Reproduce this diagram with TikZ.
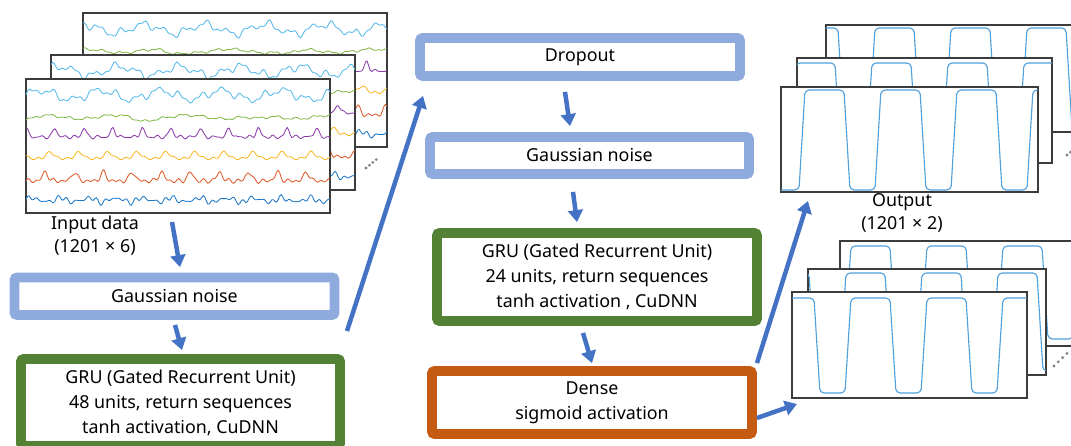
\documentclass[tikz,border=0pt]{standalone}
\usepackage{fontspec}
\setmainfont{Noto Sans}
\usetikzlibrary{arrows.meta}

\definecolor{noiseblue}{RGB}{143,170,220}
\definecolor{grugreen}{RGB}{84,130,53}
\definecolor{denseorange}{RGB}{197,90,17}
\definecolor{flowblue}{RGB}{68,114,196}
\definecolor{panelgray}{RGB}{60,60,60}
\definecolor{dotgray}{RGB}{130,130,130}
\definecolor{sigblue}{RGB}{80,160,220}
\definecolor{chA}{RGB}{86,186,236}
\definecolor{chB}{RGB}{130,186,70}
\definecolor{chC}{RGB}{140,60,170}
\definecolor{chD}{RGB}{250,185,40}
\definecolor{chE}{RGB}{225,90,40}
\definecolor{chF}{RGB}{30,120,200}

\newdimen\pxu \pxu=0.025cm

\tikzstyle{layer} = [rectangle, rounded corners=2pt, draw, line width=7pt, fill=white, text centered, align=center, font=\fontsize{12.7}{17.8}\selectfont]
\tikzstyle{panel} = [rectangle, draw=panelgray, line width=0.9pt, fill=white, inner sep=0pt, outer sep=0pt]
\tikzstyle{caption} = [align=center, font=\fontsize{12.7}{16.4}\selectfont]
\tikzstyle{arrow} = [line width=3.2pt, draw=flowblue, -{Triangle[length=8.5pt,width=10.5pt]}]
\tikzstyle{wave} = [line width=0.6pt]
\tikzstyle{sig} = [draw=sigblue, line width=0.8pt, rounded corners=3pt]

% six input channels, #1 = phase
\newcommand{\inwaves}[1]{%
  \clip (0,0) rectangle (304,135);
  \draw[wave,chA] plot[domain=0:304,samples=180] (\x,{16-4.5*sin(6*\x+#1)-3*sin(17*\x+2*#1)-1.5*sin(41*\x)-0.8*sin(29*\x+#1)});
  \draw[wave,chB] plot[domain=0:304,samples=160] (\x,{38-1.8*sin(5*\x+#1)-1*sin(19*\x+#1)-0.6*sin(43*\x)+3*exp(-6*(1-cos(3.1*\x+#1)))});
  \draw[wave,chC] plot[domain=0:304,samples=200] (\x,{58-9*exp(-5*(1-cos(12.4*\x+#1)))-1.2*sin(31*\x)-0.8*sin(47*\x+#1)});
  \draw[wave,chD] plot[domain=0:304,samples=180] (\x,{80-7*exp(-1.5*(1-cos(12.4*\x+#1+60)))-1.2*sin(37*\x+#1)});
  \draw[wave,chE] plot[domain=0:304,samples=200] (\x,{102-9*exp(-3*(1-cos(12.4*\x+#1+120)))-1.5*sin(43*\x+#1)-1*sin(29*\x)});
  \draw[wave,chF] plot[domain=0:304,samples=200] (\x,{121-2*sin(13*\x+#1)-1.6*sin(37*\x)-1.2*sin(47*\x+#1)-0.8*sin(23*\x+2*#1)});
}

% square output, #1 = phase, #2 = high, #3 = low
\newcommand{\outwave}[3]{%
  \draw[sig] (-10,#3) \foreach \k in {-1,...,4} {-- ({#1+\k*76-3},#3) -- ({#1+\k*76+3},#2) -- ({#1+\k*76+42},#2) -- ({#1+\k*76+48},#3)};
}

\begin{document}
\begin{tikzpicture}[x=0.025cm, y=-0.025cm]
\clip (0,0) rectangle (1071,446);

% input data
\node (inB) [panel, minimum width=7.6cm, minimum height=3.35cm] at (235,80) {};
\begin{scope}[shift={(inB.north west)}] \inwaves{80} \end{scope}
\node (inM) [panel, minimum width=7.6cm, minimum height=3.375cm] at (203,122.5) {};
\begin{scope}[shift={(inM.north west)}] \inwaves{40} \end{scope}
\node (inF) [panel, minimum width=7.6cm, minimum height=3.35cm] at (178,146) {};
\begin{scope}[shift={(inF.north west)}] \inwaves{0} \end{scope}
\foreach \i in {0,...,3} \fill[dotgray] ({366+\i*3.4},{168-\i*2.8}) circle (1.1pt);
\node (inLabel) [caption] at (95,236) {Input data\\(1201 × 6)};

% layers
\node (gn1) [layer, draw=noiseblue, minimum width=8cm, minimum height=0.9375cm] at (174.5,296.25) {Gaussian noise};
\node (gru1) [layer, draw=grugreen, minimum width=7.975cm, minimum height=2.175cm] at (180.5,402.5) {GRU (Gated Recurrent Unit)\\48 units, return sequences\\tanh activation, CuDNN};
\node (drop) [layer, draw=noiseblue, minimum width=8cm, minimum height=0.95cm] at (580,57) {Dropout};
\node (gn2) [layer, draw=noiseblue, minimum width=7.975cm, minimum height=0.925cm] at (589.5,155.5) {Gaussian noise};
\node (gru2) [layer, draw=grugreen, minimum width=8cm, minimum height=2.2cm] at (597,277) {GRU (Gated Recurrent Unit)\\24 units, return sequences\\tanh activation , CuDNN};
\node (dense) [layer, draw=denseorange, minimum width=8cm, minimum height=1.575cm] at (592,402.5) {Dense\\sigmoid activation};

% output, upper stack
\node (outTB) [panel, minimum width=6.4cm, minimum height=2.675cm] at (954,78.5) {};
\begin{scope}[shift={(outTB.north west)}] \clip (0,0) rectangle (256,107); \outwave{-30}{3}{103} \end{scope}
\node (outTM) [panel, minimum width=6.375cm, minimum height=2.625cm] at (924.5,110.5) {};
\begin{scope}[shift={(outTM.north west)}] \clip (0,0) rectangle (255,105); \outwave{-4}{5}{100} \end{scope}
\node (outTF) [panel, minimum width=6.425cm, minimum height=2.625cm] at (909.5,139.5) {};
\begin{scope}[shift={(outTF.north west)}] \clip (0,0) rectangle (257,105); \outwave{21}{3}{103} \end{scope}
\foreach \i in {0,...,3} \fill[dotgray] ({1067+\i*3.4},{155-\i*2.8}) circle (1.1pt);
\node (outLabel) [caption] at (902,213) {Output\\(1201 × 2)};

% output, lower stack
\node (outBB) [panel, minimum width=5.9cm, minimum height=2.625cm] at (958,293.5) {};
\begin{scope}[shift={(outBB.north west)}] \clip (0,0) rectangle (236,105); \outwave{8}{5}{98} \end{scope}
\node (outBM) [panel, minimum width=5.95cm, minimum height=2.65cm] at (927,322) {};
\begin{scope}[shift={(outBM.north west)}] \clip (0,0) rectangle (238,106); \outwave{-41}{4}{102} \end{scope}
\node (outBF) [panel, minimum width=5.875cm, minimum height=2.65cm] at (909.5,345) {};
\begin{scope}[shift={(outBF.north west)}] \clip (0,0) rectangle (235,106); \outwave{-20}{6}{101} \end{scope}
\foreach \i in {0,...,3} \fill[dotgray] ({1054+\i*4.3},{366-\i*4.2}) circle (1.1pt);

% arrows
\draw [arrow] ([xshift=-6\pxu,yshift=-9\pxu]inF.south) -- ([xshift=5.5\pxu,yshift=5.5\pxu]gn1.north);
\draw [arrow] ([xshift=0.5\pxu,yshift=-5\pxu]gn1.south) -- ([xshift=1.5\pxu,yshift=4\pxu]gru1.north);
\draw [arrow] ([xshift=2\pxu,yshift=23\pxu]gru1.north east) -- ([xshift=8\pxu,yshift=-15\pxu]drop.south west);
\draw [arrow] ([xshift=-15\pxu,yshift=-11\pxu]drop.south) -- ([xshift=-19.5\pxu,yshift=6\pxu]gn2.north);
\draw [arrow] ([xshift=-16.5\pxu,yshift=-13\pxu]gn2.south) -- ([xshift=-20\pxu,yshift=6\pxu]gru2.north);
\draw [arrow] ([xshift=-14\pxu,yshift=-7\pxu]gru2.south) -- ([yshift=3\pxu]dense.north);
\draw [arrow] ([yshift=3\pxu]dense.north east) -- ([xshift=27\pxu,yshift=-9\pxu]outTF.south west);
\draw [arrow] ([yshift=-15.5\pxu]dense.east) -- ([xshift=5\pxu,yshift=-6\pxu]outBF.south west);

\end{tikzpicture}
\end{document}
